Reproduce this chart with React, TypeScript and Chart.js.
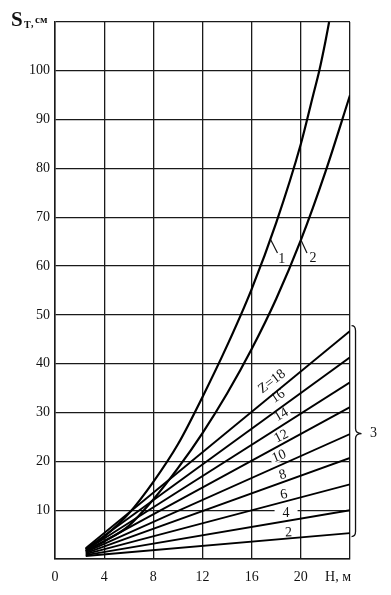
import React, { useEffect, useRef } from "react";
import { Chart, registerables } from "chart.js";

Chart.register(...registerables);

// Curve 1 and curve 2: S_T (cm) against H (m)
const curve1H = [2.5, 4, 6, 8, 10, 12, 14, 16, 18, 20, 21, 21.5, 22, 22.3];
const curve1S = [2, 4.6, 9.3, 15.8, 23.5, 33.2, 43.7, 55.3, 68.9, 85, 95, 100, 106, 110];
const curve2H = [2.5, 4, 6, 8, 10, 12, 14, 16, 18, 20, 22, 24];
const curve2S = [1.6, 3.6, 6.8, 12.2, 18.6, 25.8, 33.9, 43, 53.3, 65.3, 79.3, 95];

// Family 3: straight lines for Z = 2 ... 18
const zValues = [2, 4, 6, 8, 10, 12, 14, 16, 18];
const zLineH = [2.5, 24];
const zStartS = [0.6, 0.8, 1.0, 1.2, 1.4, 1.6, 1.8, 2.0, 2.2];
const zEndS = [5.3, 10, 15.3, 20.7, 25.6, 31.1, 36.2, 41.3, 46.7];

// Line-label anchors (data coords) for the Z family
const zLabelH = [19.0, 18.8, 18.6, 18.5, 18.2, 18.37, 18.37, 18.1, 17.6];
const zLabelS = [5.6, 9.65, 13.4, 17.4, 21.2, 25.3, 29.7, 33.5, 36.5];
const zLabelAngle = [-3, 0, -12, -17, -22, -27, -31, -34, -38];

// Curve labels "1" and "2" with leader lines
const curveLabels = ["1", "2"];
const leaderFromH = [17.55, 20.0];
const leaderFromS = [65.4, 65.4];
const leaderToH = [18.1, 20.5];
const leaderToS = [62.7, 62.7];
const curveLabelH = [18.45, 20.98];
const curveLabelS = [61.3, 61.6];

// Axis ticks
const xMin = 0, xMax = 24, xStep = 4, xLastLabel = 20;
const yMin = 0, yMax = 110, yStep = 10, yFirstLabel = 10, yLastLabel = 100;
const xTitle = "H, м";
const familyLabel = "3";
const braceTopS = 47.8, braceBottomS = 4.6, braceTipS = 25.7, braceH = 24.45;

const SERIF = "'Liberation Serif', 'DejaVu Serif', serif";
const INK = "#111";

const annotPlugin = {
  id: "annot",
  beforeDatasetsDraw(chart: any) {
    const { ctx, scales } = chart;
    const x = scales.x, y = scales.y;
    ctx.save();
    ctx.font = `14px ${SERIF}`;
    ctx.textAlign = "center";
    ctx.textBaseline = "middle";
    zValues.forEach((z, i) => {
      const px = x.getPixelForValue(zLabelH[i]);
      const py = y.getPixelForValue(zLabelS[i]);
      const text = i === zValues.length - 1 ? `Z=${z}` : String(z);
      const w = ctx.measureText(text).width;
      const padX = z === 4 ? 8 : 2;
      ctx.save();
      ctx.translate(px, py);
      ctx.rotate((zLabelAngle[i] * Math.PI) / 180);
      ctx.fillStyle = "#fff";
      ctx.fillRect(-w / 2 - padX, -6, w + padX * 2, 12);
      ctx.fillStyle = INK;
      ctx.fillText(text, 0, 1);
      ctx.restore();
    });
    ctx.restore();
  },
  afterDraw(chart: any) {
    const { ctx, scales } = chart;
    const x = scales.x, y = scales.y;
    ctx.save();
    ctx.strokeStyle = INK;
    ctx.fillStyle = INK;
    // leaders + curve labels
    ctx.lineWidth = 1.2;
    ctx.font = `14px ${SERIF}`;
    ctx.textAlign = "center";
    ctx.textBaseline = "middle";
    curveLabels.forEach((t, i) => {
      ctx.beginPath();
      ctx.moveTo(x.getPixelForValue(leaderFromH[i]), y.getPixelForValue(leaderFromS[i]));
      ctx.lineTo(x.getPixelForValue(leaderToH[i]), y.getPixelForValue(leaderToS[i]));
      ctx.stroke();
      ctx.fillText(t, x.getPixelForValue(curveLabelH[i]), y.getPixelForValue(curveLabelS[i]));
    });
    // y title S_T, см
    ctx.textAlign = "left";
    ctx.textBaseline = "alphabetic";
    ctx.font = `bold 21px ${SERIF}`;
    ctx.fillText("S", 11, 26);
    ctx.font = `bold 10px ${SERIF}`;
    ctx.fillText("T", 24, 28);
    ctx.fillText(",", 31, 27);
    ctx.font = `bold 11px ${SERIF}`;
    ctx.fillText("см", 35, 23);
    // x title
    ctx.font = `14px ${SERIF}`;
    ctx.textAlign = "center";
    ctx.textBaseline = "middle";
    ctx.fillText(xTitle, 338, y.bottom + 18);
    // brace
    const bx = x.getPixelForValue(braceH);
    const top = y.getPixelForValue(braceTopS);
    const bot = y.getPixelForValue(braceBottomS);
    const tip = y.getPixelForValue(braceTipS);
    ctx.lineWidth = 1.3;
    ctx.beginPath();
    ctx.moveTo(bx - 4, top);
    ctx.quadraticCurveTo(bx, top, bx, top + 5);
    ctx.lineTo(bx, tip - 5);
    ctx.quadraticCurveTo(bx, tip, bx + 6, tip);
    ctx.quadraticCurveTo(bx, tip, bx, tip + 5);
    ctx.lineTo(bx, bot - 5);
    ctx.quadraticCurveTo(bx, bot, bx - 4, bot);
    ctx.stroke();
    ctx.font = `14px ${SERIF}`;
    ctx.fillText(familyLabel, bx + 18, tip);
    ctx.restore();
  },
};

export default function App() {
  const ref = useRef<HTMLCanvasElement | null>(null);
  useEffect(() => {
    document.body.style.margin = "0";
    const canvas = ref.current;
    if (!canvas) return;
    const pts = (hs: number[], ss: number[]) => hs.map((h, i) => ({ x: h, y: ss[i] }));
    const datasets: any[] = [
      {
        label: "1",
        data: pts(curve1H, curve1S),
        borderColor: "#000",
        borderWidth: 2.2,
        pointRadius: 0,
        cubicInterpolationMode: "monotone",
        fill: false,
      },
      {
        label: "2",
        data: pts(curve2H, curve2S),
        borderColor: "#000",
        borderWidth: 2.2,
        pointRadius: 0,
        cubicInterpolationMode: "monotone",
        fill: false,
      },
      ...zValues.map((z, i) => ({
        label: `Z=${z}`,
        data: pts(zLineH, [zStartS[i], zEndS[i]]),
        borderColor: "#000",
        borderWidth: 1.9,
        pointRadius: 0,
        tension: 0,
        fill: false,
      })),
    ];
    const chart = new Chart(canvas, {
      type: "line",
      data: { datasets },
      options: {
        responsive: false,
        animation: false,
        devicePixelRatio: 1,
        layout: { padding: { top: 22, right: 41, left: 0, bottom: 0 } },
        plugins: { legend: { display: false }, tooltip: { enabled: false } },
        scales: {
          x: {
            type: "linear",
            min: xMin,
            max: xMax,
            afterFit: (s: any) => { s.height = 36; },
            ticks: {
              stepSize: xStep,
              color: INK,
              font: { family: SERIF, size: 14 },
              padding: 10,
              maxRotation: 0,
              autoSkip: false,
              callback: (v: any) => (Number(v) <= xLastLabel ? String(v) : ""),
            },
            grid: { color: "#1a1a1a", lineWidth: 1.3, drawTicks: false },
            border: { display: true, color: "#1a1a1a", width: 1.5 },
          },
          y: {
            type: "linear",
            min: yMin,
            max: yMax,
            afterFit: (s: any) => { s.width = 55; },
            ticks: {
              stepSize: yStep,
              color: INK,
              font: { family: SERIF, size: 14 },
              padding: 5,
              autoSkip: false,
              callback: (v: any) =>
                Number(v) >= yFirstLabel && Number(v) <= yLastLabel ? String(v) : "",
            },
            grid: { color: "#1a1a1a", lineWidth: 1.3, drawTicks: false },
            border: { display: true, color: "#1a1a1a", width: 1.5 },
          },
        },
      },
      plugins: [annotPlugin],
    });
    return () => chart.destroy();
  }, []);
  return <canvas ref={ref} width={391} height={595} style={{ display: "block" }} />;
}
